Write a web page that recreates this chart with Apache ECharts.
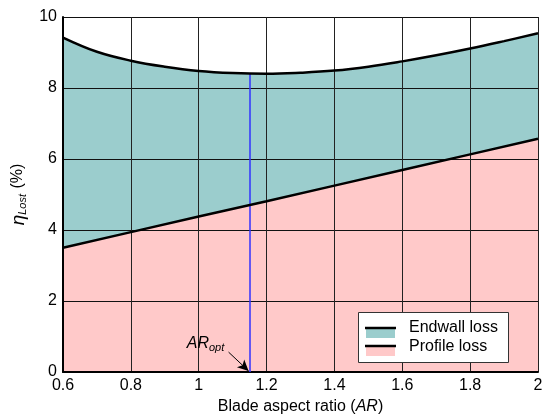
<!DOCTYPE html>
<html>
<head>
<meta charset="utf-8">
<script src="https://cdn.jsdelivr.net/npm/echarts@6/dist/echarts.min.js"></script>
<style>html,body{margin:0;padding:0;background:#fff}#c{width:555px;height:416px}</style>
</head>
<body>
<div id="c"></div>
<script>
// Data
var arValues = [0.6, 0.7, 0.8, 0.9, 1.0, 1.1, 1.2, 1.3, 1.4, 1.5, 1.6, 1.7, 1.8, 1.9, 2.0];
var totalLoss = [9.42, 9.02, 8.77, 8.60, 8.48, 8.42, 8.40, 8.43, 8.49, 8.60, 8.75, 8.92, 9.11, 9.32, 9.54];
var profileAR = [0.6, 0.8, 1.0, 1.2, 1.4, 1.6, 1.8, 2.0];
var profileLoss = [3.50, 3.94, 4.38, 4.81, 5.25, 5.69, 6.13, 6.57];
var arOpt = 1.15;
var arOptLoss = 8.40;
var xTicks = [0.6, 0.8, 1, 1.2, 1.4, 1.6, 1.8, 2];
var yTicks = [0, 2, 4, 6, 8, 10];
var legendNames = ['Endwall loss', 'Profile loss'];

var FONT = 'Liberation Sans, Arial, sans-serif';
var TEAL = '#9bcdcd';
var PINK = '#ffc9c9';

function pairs(xs, ys) { return xs.map(function (x, i) { return [x, ys[i]]; }); }
var totalData = pairs(arValues, totalLoss);
var profileData = pairs(profileAR, profileLoss);

var chart = echarts.init(document.getElementById('c'), null, {renderer: 'canvas'});
chart.setOption({
  animation: false,
  backgroundColor: '#fff',
  grid: {left: 63, right: 17, top: 17, bottom: 44, containLabel: false, outerBoundsMode: 'none'},
  xAxis: {
    type: 'value', min: 0.6, max: 2, interval: 0.2, z: 3,
    name: 'Blade aspect ratio ({i|AR})',
    nameLocation: 'middle', nameGap: 27,
    nameTextStyle: {fontSize: 16, color: '#000', fontFamily: FONT,
      rich: {i: {fontSize: 16, fontStyle: 'italic', color: '#000', fontFamily: FONT}}},
    axisLine: {show: true, onZero: false, lineStyle: {color: '#000', width: 2}},
    axisTick: {show: false},
    axisLabel: {fontSize: 16, color: '#000', fontFamily: FONT, margin: 6,
      formatter: function (v) { return String(+v.toFixed(1)); }},
    splitLine: {show: true, lineStyle: {color: '#222', width: 1}}
  },
  yAxis: {
    type: 'value', min: 0, max: 10, interval: 2, z: 3,
    name: '{e|η}{s|Lost}{n| (%)}',
    nameLocation: 'middle', nameGap: 24, nameRotate: 90,
    nameTextStyle: {fontFamily: FONT, color: '#000',
      rich: {
        e: {fontSize: 19, fontStyle: 'italic', fontFamily: FONT, color: '#000', verticalAlign: 'top', lineHeight: 17},
        s: {fontSize: 11, fontStyle: 'italic', fontFamily: FONT, color: '#000', verticalAlign: 'top', lineHeight: 11, padding: [8, 1, 0, 0]},
        n: {fontSize: 16, fontFamily: FONT, color: '#000', verticalAlign: 'top', lineHeight: 16}
      }},
    axisLine: {show: true, lineStyle: {color: '#000', width: 2}},
    axisTick: {show: false},
    axisLabel: {fontSize: 16, color: '#000', fontFamily: FONT, margin: 6},
    splitLine: {show: true, lineStyle: {color: '#111', width: 1}}
  },
  series: [
    {
      name: 'totalArea', type: 'line', data: totalData, smooth: 0.4, showSymbol: false, z: 1,
      lineStyle: {width: 0}, areaStyle: {color: TEAL, opacity: 1, origin: 'start'}
    },
    {
      name: 'profileArea', type: 'line', data: profileData, showSymbol: false, z: 2,
      lineStyle: {width: 0}, areaStyle: {color: PINK, opacity: 1, origin: 'start'}
    },
    {
      name: legendNames[0], type: 'line', data: totalData, smooth: 0.4, showSymbol: false, z: 5,
      lineStyle: {color: '#000', width: 2.5},
      markLine: {
        silent: true, symbol: ['none', 'none'], label: {show: false},
        data: [
          [{coord: [arOpt, 0], lineStyle: {color: '#3030ff', width: 1.5, type: 'solid'}},
           {coord: [arOpt, arOptLoss]}]
        ]
      }
    },
    {
      name: legendNames[1], type: 'line', data: profileData, showSymbol: false, z: 5,
      lineStyle: {color: '#000', width: 2.5},
      markLine: {
        silent: true, symbol: ['none', 'arrow'], symbolSize: [8, 11], label: {show: false},
        data: [
          [{coord: [1.088, 0.56], lineStyle: {color: '#000', width: 1, type: 'solid'}},
           {coord: [1.147, 0.03]}]
        ]
      },
      markPoint: {
        silent: true, symbol: 'circle', symbolSize: 0,
        data: [{coord: [1.02, 0.8], value: 0}],
        label: {
          show: true, position: 'inside',
          formatter: '{a|AR}{b|opt}',
          rich: {
            a: {fontSize: 16, fontStyle: 'italic', fontFamily: FONT, color: '#000', lineHeight: 16, verticalAlign: 'top'},
            b: {fontSize: 11, fontStyle: 'italic', fontFamily: FONT, color: '#000', lineHeight: 11, verticalAlign: 'top', padding: [7, 0, 0, 0]}
          }
        }
      }
    }
  ],
  graphic: [
    {type: 'rect', left: 358, top: 312, z: 20, shape: {width: 150, height: 50},
     style: {fill: '#fff', stroke: '#333', lineWidth: 1}},
    {type: 'rect', left: 366, top: 328, z: 21, shape: {width: 29, height: 10}, style: {fill: TEAL}},
    {type: 'line', z: 22, shape: {x1: 365, y1: 328, x2: 396, y2: 328}, style: {stroke: '#000', lineWidth: 2.5}},
    {type: 'rect', left: 366, top: 346, z: 21, shape: {width: 29, height: 10}, style: {fill: PINK}},
    {type: 'line', z: 22, shape: {x1: 365, y1: 346, x2: 396, y2: 346}, style: {stroke: '#000', lineWidth: 2.5}},
    {type: 'text', left: 409, top: 320, z: 22, style: {text: legendNames[0], fontSize: 16, fontFamily: FONT, fill: '#000'}},
    {type: 'text', left: 409, top: 339, z: 22, style: {text: legendNames[1], fontSize: 16, fontFamily: FONT, fill: '#000'}}
  ]
});
</script>
</body>
</html>
